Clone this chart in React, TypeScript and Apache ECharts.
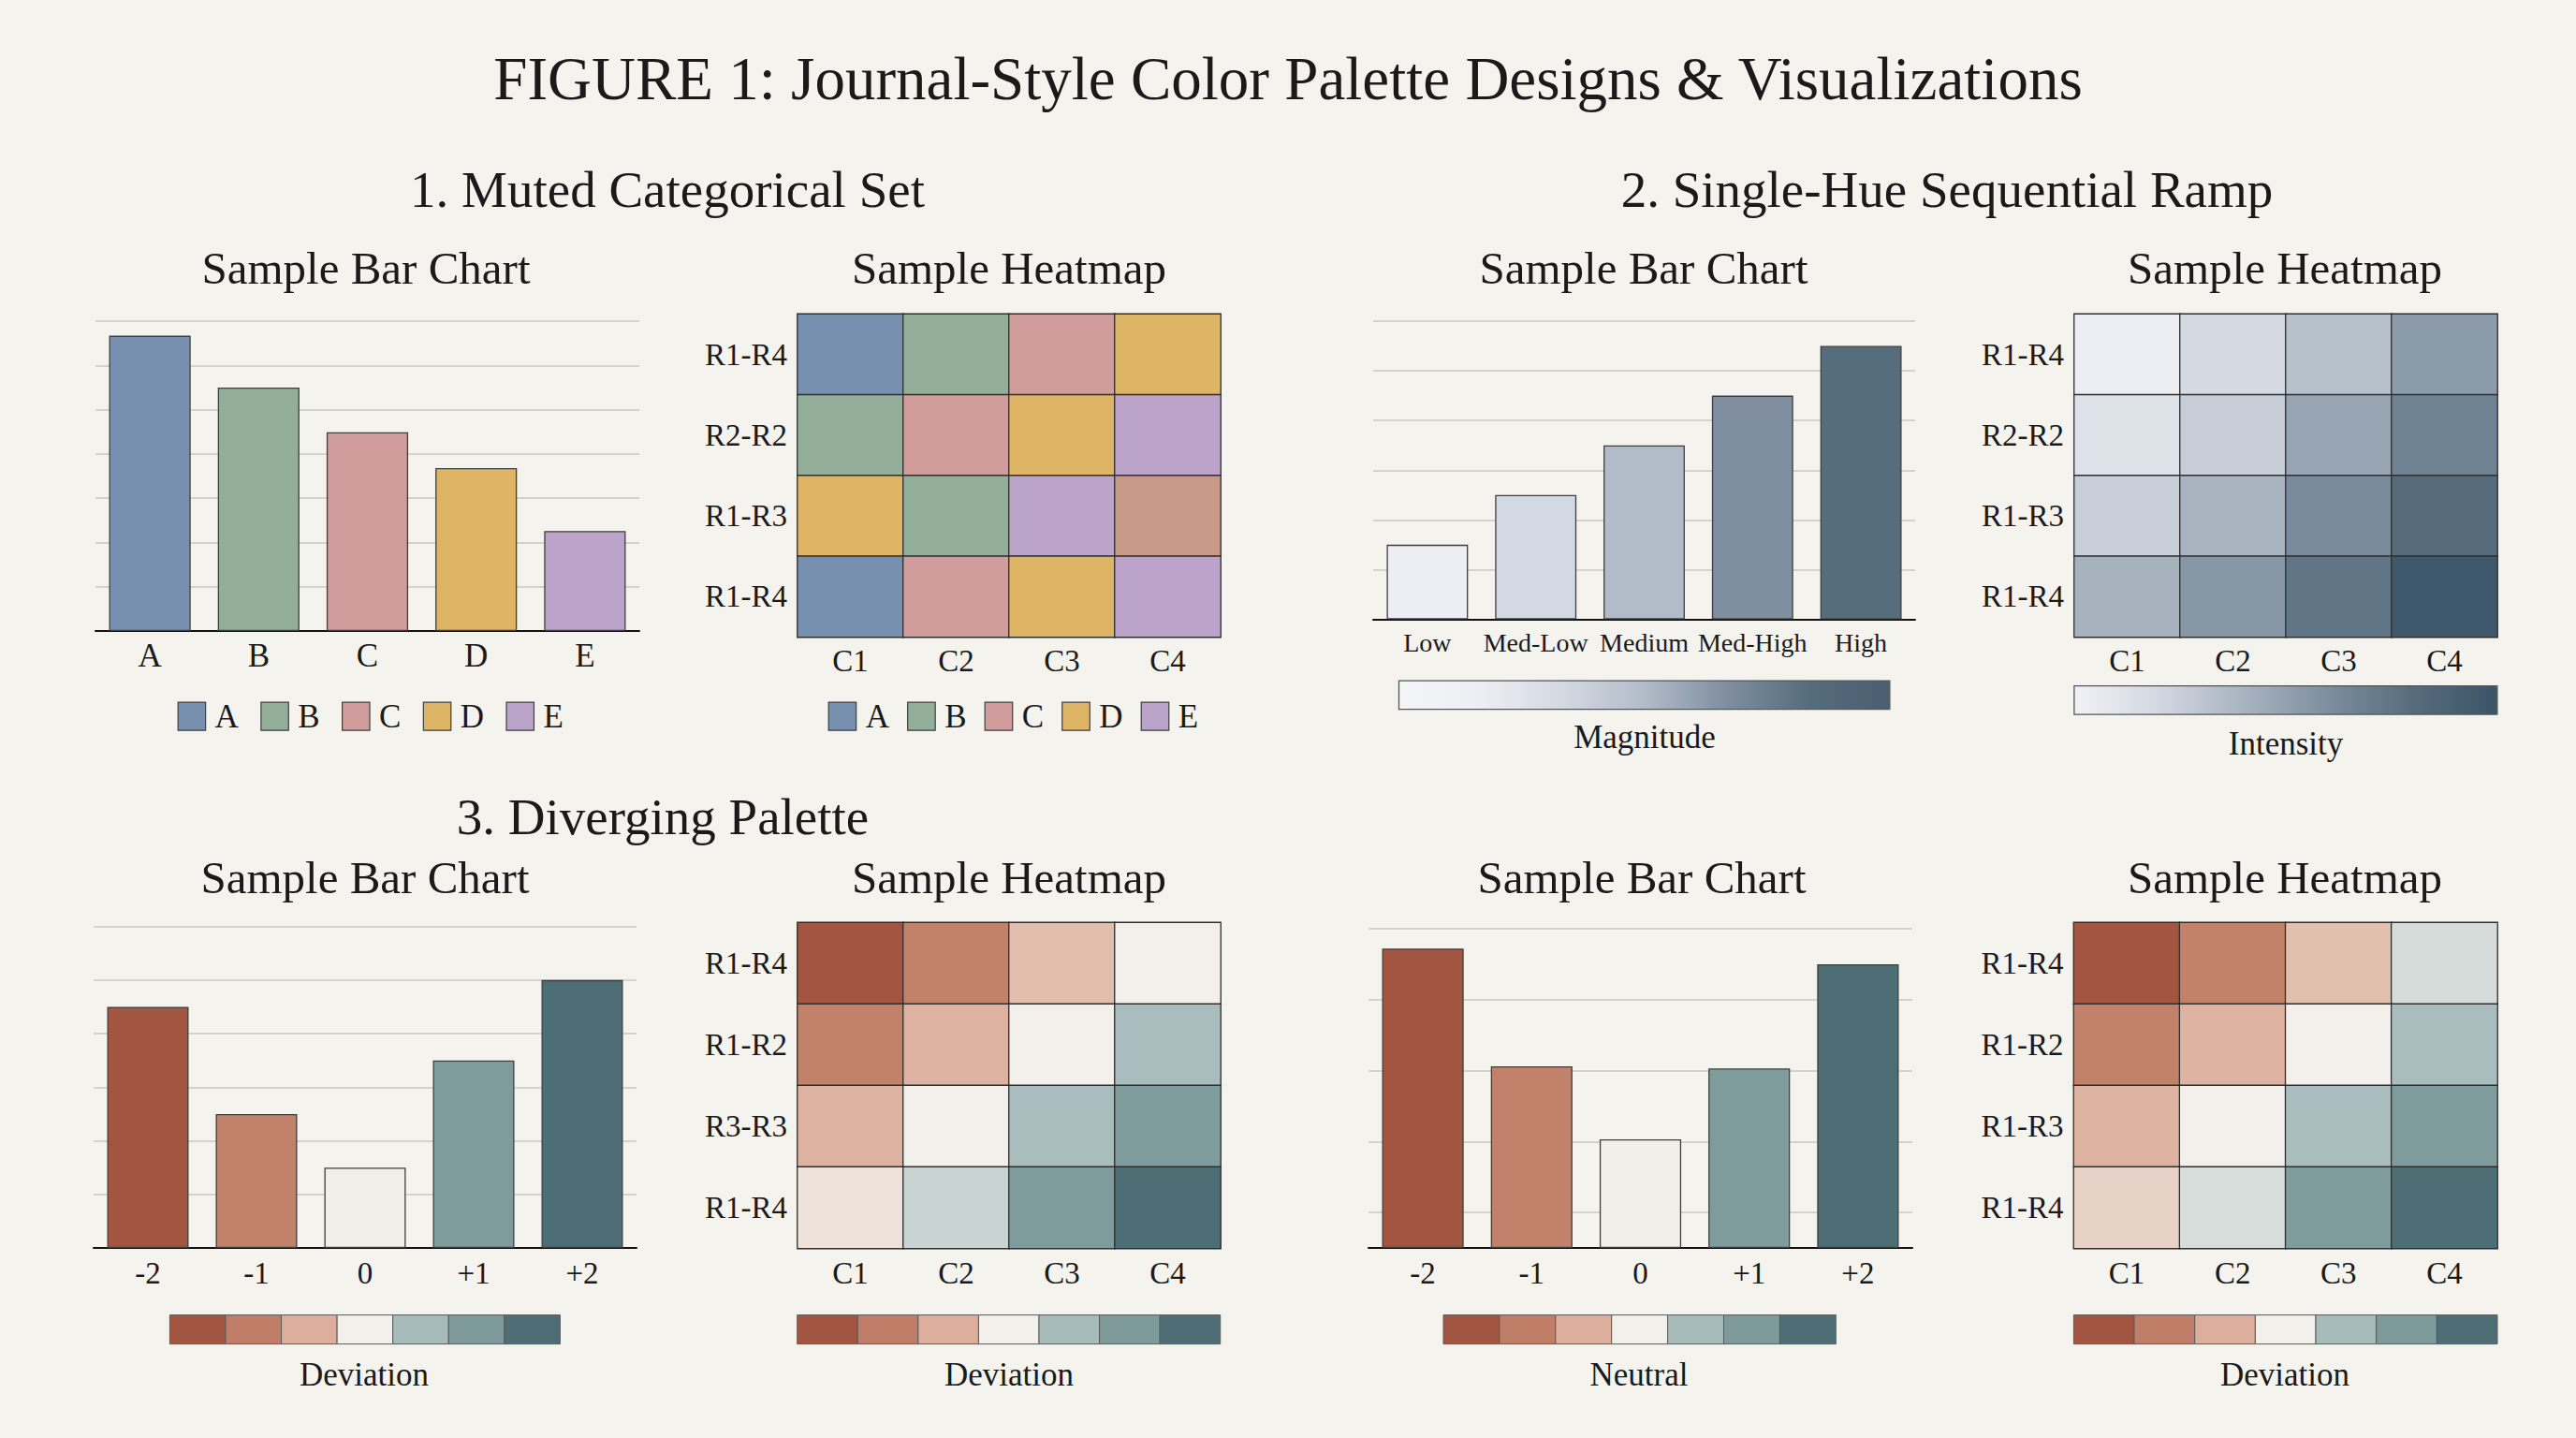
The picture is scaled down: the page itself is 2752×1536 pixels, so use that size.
import React, { useEffect, useRef } from "react";
import * as echarts from "echarts";

const FONT = "'Liberation Serif', 'Times New Roman', serif";
const BG = "#F4F3EE";
const INK = "#1a1a1a";
const GRIDLINE = "#D3D2CD";
const EDGE = "#3e3e3e";

// ---------- Panel 1: muted categorical ----------
const catLabels = ["A", "B", "C", "D", "E"];
const catValues = [6.67, 5.5, 4.49, 3.68, 2.26];
const catColors = ["#7890B0", "#94AF99", "#D09C9C", "#DDB565", "#BCA3C9"];
const heatCols = ["C1", "C2", "C3", "C4"];
const heat1Rows = ["R1-R4", "R2-R2", "R1-R3", "R1-R4"];
const heat1Cats = [
  [0, 1, 2, 3],
  [1, 2, 3, 4],
  [3, 1, 4, 5],
  [0, 2, 3, 4],
];
const heat1Colors = [...catColors, "#C99A88"];

// ---------- Panel 2: single-hue sequential ----------
const seqLabels = ["Low", "Med-Low", "Medium", "Med-High", "High"];
const seqValues = [1.5, 2.5, 3.5, 4.5, 5.5];
const seqBarRamp = ["#F4F5F8", "#EDEEF3", "#D3D9E2", "#B2BCC9", "#7F8FA0", "#566D7E", "#4A5E70"];
const heat2Rows = ["R1-R4", "R2-R2", "R1-R3", "R1-R4"];
const heat2Values = [
  [0.03, 0.19, 0.33, 0.53],
  [0.12, 0.26, 0.48, 0.67],
  [0.25, 0.4, 0.62, 0.8],
  [0.41, 0.56, 0.75, 0.97],
];
const intensityRamp = ["#F1F2F6", "#D2D8E1", "#A9B4C1", "#7D8E9E", "#566C7D", "#3C5468"];

// ---------- Panel 3: diverging ----------
const divLabels = ["-2", "-1", "0", "+1", "+2"];
const div1Values = [4.5, 2.5, 1.5, 3.5, 5.0];
const div2Values = [4.22, 2.56, 1.53, 2.53, 4.0];
const divBarColors = ["#A25641", "#C2816A", "#F2EFEA", "#7F9C9C", "#4E6E76"];
const divScale = ["#A25641", "#C2826A", "#DDB2A0", "#F3F0EB", "#A9BDBE", "#7F9C9C", "#4E6E76"];
const divSwatches = ["#A25641", "#C07E68", "#DDAE9C", "#F2F0EB", "#A8BBBB", "#7F9A9B", "#4F6D75"];
const heat3Rows = ["R1-R4", "R1-R2", "R3-R3", "R1-R4"];
const heat3Values = [
  [-3, -2, -0.82, 0],
  [-2, -1, 0, 1],
  [-1, 0, 1, 2],
  [-0.22, 0.57, 2, 3],
];
const heat4Rows = ["R1-R4", "R1-R2", "R1-R3", "R1-R4"];
const heat4Values = [
  [-3, -2, -0.78, 0.4],
  [-2, -1, 0, 1],
  [-1, 0, 1, 2],
  [-0.5, 0.38, 2, 3],
];

// ---------- layout (pixels) ----------
const G = {
  bar1: { left: 102, top: 343, width: 581, height: 331 },
  heat1: { left: 852, top: 335.5, width: 452, height: 345 },
  bar2: { left: 1467, top: 343, width: 579, height: 318.5 },
  heat2: { left: 2216, top: 335.5, width: 452, height: 345 },
  bar3: { left: 100, top: 989.6, width: 580, height: 343.4 },
  heat3: { left: 852, top: 985.5, width: 452, height: 348 },
  bar4: { left: 1462, top: 992, width: 581, height: 341 },
  heat4: { left: 2215.5, top: 985.5, width: 452.5, height: 348 },
};

const TEXTS = [
  { t: "FIGURE 1: Journal-Style Color Palette Designs & Visualizations", x: 1376, y: 84, s: 65 },
  { t: "1. Muted Categorical Set", x: 713, y: 202, s: 55 },
  { t: "2. Single-Hue Sequential Ramp", x: 2080, y: 202, s: 55 },
  { t: "3. Diverging Palette", x: 708, y: 872, s: 55 },
  { t: "Sample Bar Chart", x: 391, y: 286, s: 49 },
  { t: "Sample Heatmap", x: 1078, y: 286, s: 49 },
  { t: "Sample Bar Chart", x: 1756, y: 286, s: 49 },
  { t: "Sample Heatmap", x: 2441, y: 286, s: 49 },
  { t: "Sample Bar Chart", x: 390, y: 937, s: 49 },
  { t: "Sample Heatmap", x: 1078, y: 937, s: 49 },
  { t: "Sample Bar Chart", x: 1754, y: 937, s: 49 },
  { t: "Sample Heatmap", x: 2441, y: 937, s: 49 },
  { t: "Magnitude", x: 1757, y: 787, s: 35 },
  { t: "Intensity", x: 2442, y: 794, s: 35 },
  { t: "Deviation", x: 389, y: 1468, s: 35 },
  { t: "Deviation", x: 1078, y: 1468, s: 35 },
  { t: "Neutral", x: 1751, y: 1468, s: 35 },
  { t: "Deviation", x: 2441, y: 1468, s: 35 },
];

const SEG_BARS = [
  { x: 181.4, y: 1404.6, w: 417, h: 31 },
  { x: 851.7, y: 1404.6, w: 452, h: 31 },
  { x: 1542, y: 1404.6, w: 419.3, h: 31 },
  { x: 2215.4, y: 1404.6, w: 452.6, h: 31 },
];

const toCells = (m: number[][]) => m.flatMap((row, r) => row.map((v, c) => [c, r, v]));

function barXAxis(grid: number, labels: string[], fontSize: number, margin: number) {
  return {
    type: "category",
    gridIndex: grid,
    data: labels,
    axisLine: { show: true, lineStyle: { color: "#111", width: 2 } },
    axisTick: { show: false },
    axisLabel: { fontFamily: FONT, fontSize, color: INK, margin, interval: 0 },
  };
}
function barYAxis(grid: number, max: number, showSplit = true) {
  return {
    type: "value",
    gridIndex: grid,
    min: 0,
    max,
    interval: 1,
    axisLabel: { show: false },
    axisLine: { show: false },
    axisTick: { show: false },
    splitLine: { show: showSplit, lineStyle: { color: GRIDLINE, width: 2 } },
  };
}
function heatXAxis(grid: number, margin: number) {
  return {
    type: "category",
    gridIndex: grid,
    data: heatCols,
    axisLine: { show: false },
    axisTick: { show: false },
    splitArea: { show: false },
    axisLabel: { fontFamily: FONT, fontSize: 33, color: INK, margin },
  };
}
function heatYAxis(grid: number, rows: string[]) {
  return {
    type: "category",
    gridIndex: grid,
    data: rows,
    inverse: true,
    axisLine: { show: false },
    axisTick: { show: false },
    splitArea: { show: false },
    axisLabel: { fontFamily: FONT, fontSize: 33, color: INK, margin: 11 },
  };
}
const cellStyle = { borderColor: "#2e2e2e", borderWidth: 1.3 };
const barEdge = { borderColor: EDGE, borderWidth: 1.3 };

export default function App() {
  const ref = useRef<HTMLDivElement>(null);
  useEffect(() => {
    document.body.style.margin = "0";
    document.body.style.overflow = "hidden";
    const chart = echarts.init(ref.current!, null, { renderer: "svg" });

    const graphics: any[] = [];
    TEXTS.forEach((d) => {
      graphics.push({
        type: "text",
        x: d.x,
        y: d.y,
        style: {
          text: d.t,
          font: `${d.s}px ${FONT}`,
          fill: INK,
          textAlign: "center",
          textVerticalAlign: "middle",
          align: "center",
          verticalAlign: "middle",
        },
        silent: true,
      });
    });
    SEG_BARS.forEach((b) => {
      const sw = b.w / divSwatches.length;
      divSwatches.forEach((c, i) => {
        graphics.push({
          type: "rect",
          shape: { x: b.x + i * sw, y: b.y, width: sw, height: b.h },
          style: { fill: c, stroke: "#5a5a5a", lineWidth: 1 },
          silent: true,
        });
      });
    });
    [
      { x: 1494.5, y: 727.1, w: 524.4, h: 30.5 },
      { x: 2215.9, y: 732.7, w: 452, h: 30.5 },
    ].forEach((b) => {
      graphics.push({
        type: "rect",
        z: 100,
        shape: { x: b.x, y: b.y, width: b.w, height: b.h },
        style: { fill: "none", stroke: "#555", lineWidth: 1.3 },
        silent: true,
      });
    });

    const bar1Series = catLabels.map((name, k) => ({
      type: "bar",
      name,
      xAxisIndex: 0,
      yAxisIndex: 0,
      barGap: "-100%",
      barCategoryGap: "25%",
      itemStyle: { color: catColors[k], ...barEdge },
      data: catValues.map((v, i) => (i === k ? v : "-")),
      emphasis: { disabled: true },
    }));

    const legendCommon = {
      data: catLabels,
      orient: "horizontal",
      icon: "rect",
      itemHeight: 30,
      selectedMode: false,
      padding: 0,
      itemStyle: { borderColor: EDGE, borderWidth: 1.2 },
      textStyle: { fontFamily: FONT, fontSize: 35, color: INK, padding: [0, 0, 0, 5] },
    };

    const option: any = {
      animation: false,
      backgroundColor: BG,
      graphic: { elements: graphics },
      legend: [
        { ...legendCommon, left: 189.6, top: 747.7, itemWidth: 29.4, itemGap: 23.4 },
        { ...legendCommon, left: 884.6, top: 747.7, itemWidth: 29.5, itemGap: 19.1 },
      ],
      grid: [G.bar1, G.heat1, G.bar2, G.heat2, G.bar3, G.heat3, G.bar4, G.heat4].map((g) => ({
        ...g,
        containLabel: false,
      })),
      xAxis: [
        barXAxis(0, catLabels, 35, 9),
        heatXAxis(1, 9),
        barXAxis(2, seqLabels, 28, 11),
        heatXAxis(3, 9),
        barXAxis(4, divLabels, 33, 10),
        heatXAxis(5, 10),
        barXAxis(6, divLabels, 33, 10),
        heatXAxis(7, 10),
      ],
      yAxis: [
        barYAxis(0, 7),
        heatYAxis(1, heat1Rows),
        barYAxis(2, 6),
        heatYAxis(3, heat2Rows),
        barYAxis(4, 6),
        heatYAxis(5, heat3Rows),
        barYAxis(6, 4.5, false),
        heatYAxis(7, heat4Rows),
        // gridline helper axis for panel 4 (gridlines offset by half a unit from the baseline)
        { ...barYAxis(6, 4.5, true), inverse: true },
      ],
      visualMap: [
        {
          type: "piecewise",
          show: false,
          seriesIndex: 5,
          dimension: 2,
          pieces: heat1Colors.map((c, i) => ({ value: i, color: c })),
        },
        {
          type: "continuous",
          seriesIndex: 6,
          dimension: 1,
          min: 0.5,
          max: 6.5,
          calculable: false,
          hoverLink: false,
          orient: "horizontal",
          left: 1494.5,
          top: 727.1,
          itemWidth: 30.5,
          itemHeight: 524.4,
          padding: 0,
          inRange: { color: seqBarRamp },
        },
        {
          type: "continuous",
          seriesIndex: 7,
          dimension: 2,
          min: 0,
          max: 1,
          calculable: false,
          hoverLink: false,
          orient: "horizontal",
          left: 2215.9,
          top: 732.7,
          itemWidth: 30.5,
          itemHeight: 452,
          padding: 0,
          inRange: { color: intensityRamp },
        },
        {
          type: "continuous",
          show: false,
          seriesIndex: [9, 11],
          dimension: 2,
          min: -3,
          max: 3,
          inRange: { color: divScale },
        },
      ],
      series: [
        ...bar1Series,
        {
          type: "heatmap",
          name: "Categorical grid",
          xAxisIndex: 1,
          yAxisIndex: 1,
          data: toCells(heat1Cats),
          itemStyle: cellStyle,
          emphasis: { disabled: true },
        },
        {
          type: "bar",
          name: "Magnitude",
          xAxisIndex: 2,
          yAxisIndex: 2,
          barCategoryGap: "25%",
          data: seqValues,
          itemStyle: barEdge,
          emphasis: { disabled: true },
        },
        {
          type: "heatmap",
          name: "Intensity",
          xAxisIndex: 3,
          yAxisIndex: 3,
          data: toCells(heat2Values),
          itemStyle: cellStyle,
          emphasis: { disabled: true },
        },
        {
          type: "bar",
          name: "Deviation bars",
          xAxisIndex: 4,
          yAxisIndex: 4,
          barCategoryGap: "25%",
          data: div1Values.map((v, i) => ({ value: v, itemStyle: { color: divBarColors[i] } })),
          itemStyle: barEdge,
          emphasis: { disabled: true },
        },
        {
          type: "heatmap",
          name: "Deviation grid",
          xAxisIndex: 5,
          yAxisIndex: 5,
          data: toCells(heat3Values),
          itemStyle: cellStyle,
          emphasis: { disabled: true },
        },
        {
          type: "bar",
          name: "Neutral bars",
          xAxisIndex: 6,
          yAxisIndex: 6,
          z: 3,
          barCategoryGap: "25%",
          data: div2Values.map((v, i) => ({ value: v, itemStyle: { color: divBarColors[i] } })),
          itemStyle: barEdge,
          emphasis: { disabled: true },
        },
        {
          type: "heatmap",
          name: "Deviation grid 2",
          xAxisIndex: 7,
          yAxisIndex: 7,
          data: toCells(heat4Values),
          itemStyle: cellStyle,
          emphasis: { disabled: true },
        },
      ],
    };

    chart.setOption(option);
    return () => chart.dispose();
  }, []);

  return (
    <div
      ref={ref}
      style={{ position: "absolute", left: 0, top: 0, width: "2752px", height: "1536px" }}
    />
  );
}
